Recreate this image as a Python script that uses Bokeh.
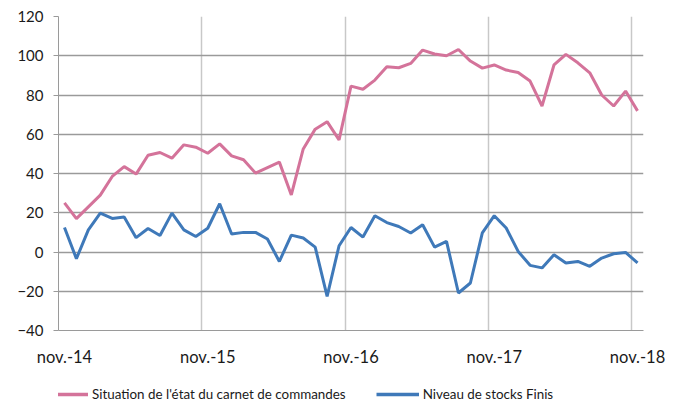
from bokeh.plotting import figure
from bokeh.layouts import column
from bokeh.models import FixedTicker, Legend, LegendItem, Range1d, ColumnDataSource
from bokeh.embed import file_html
from bokeh.resources import INLINE

months = list(range(49))
carnet = [25, 17, 23, 29, 38.5, 43.5, 39.7, 49.3, 50.7, 47.8, 54.6, 53.4, 50.3,
          55.1, 49, 47, 40.2, 43, 45.8, 29.1, 52.5, 62.6, 66.4, 57.1,
          84.5, 82.9, 87.6, 94.4, 93.9, 96.1, 102.9, 100.9, 100, 103.2, 97.3, 93.7,
          95.3, 92.7, 91.5, 87.1, 74.4, 95.3, 100.7, 96.4, 91.3, 80, 74.4, 82, 71.9]
stocks = [12.5, -3.4, 11.3, 19.8, 17.1, 17.8, 7.3, 12, 8.4, 19.8, 11.3, 7.9, 12.1,
          24.6, 9.2, 10, 10, 6.6, -4.8, 8.6, 7.1, 2.5, -22.6, 3.2,
          12.5, 7.6, 18.5, 15, 13, 9.7, 13.9, 2.5, 5.4, -20.9, -15.8, 9.7,
          18.5, 12.2, 0.3, -6.8, -8.1, -1.4, -5.6, -4.8, -7.3, -3.1, -0.9, -0.2, -5.6]
tick_pos = [0, 12, 24, 36, 48]
tick_labels = ["nov.-14", "nov.-15", "nov.-16", "nov.-17", "nov.-18"]
y_ticks = [-40, -20, 0, 20, 40, 60, 80, 100, 120]
names = ["Situation de l'état du carnet de commandes", "Niveau de stocks Finis"]

FONT = "Lato"
PINK = "#D4739A"
BLUE = "#3F79B9"
TXT = "#1a1a1a"

p = figure(width=668, height=370, output_backend="svg", toolbar_location=None,
           x_range=Range1d(-0.5, 48.5), y_range=Range1d(-40, 120),
           min_border_left=58, min_border_right=25, min_border_top=16, min_border_bottom=40)
p.outline_line_color = None

src = ColumnDataSource(dict(x=months, c=carnet, s=stocks))
p.line("x", "c", source=src, line_color=PINK, line_width=3)
p.line("x", "s", source=src, line_color=BLUE, line_width=3)

p.xaxis.ticker = FixedTicker(ticks=tick_pos)
p.xaxis.major_label_overrides = {t: l for t, l in zip(tick_pos, tick_labels)}
p.xaxis.major_tick_line_color = None
p.xaxis.minor_tick_line_color = None
p.xaxis.axis_line_color = "#9a9a9a"
p.xaxis.major_label_standoff = 10
p.xaxis.major_label_text_font = FONT
p.xaxis.major_label_text_font_size = "16.5px"
p.xaxis.major_label_text_color = TXT

p.yaxis.ticker = FixedTicker(ticks=y_ticks)
p.yaxis.axis_line_color = "#9a9a9a"
p.yaxis.major_tick_line_color = "#9a9a9a"
p.yaxis.major_tick_out = 5
p.yaxis.major_tick_in = 0
p.yaxis.minor_tick_line_color = None
p.yaxis.major_label_standoff = 10
p.yaxis.major_label_text_font = FONT
p.yaxis.major_label_text_font_size = "15px"
p.yaxis.major_label_text_color = TXT

p.ygrid.ticker = FixedTicker(ticks=y_ticks)
p.ygrid.grid_line_color = "#9a9a9a"
p.ygrid.grid_line_width = 1.5
p.xgrid.ticker = FixedTicker(ticks=[11.5, 23.5, 35.5, 47.5])
p.xgrid.grid_line_color = "#c8c8c8"
p.xgrid.grid_line_width = 1.5

# legend strip below the chart (its own lines sit outside its visible range)
lg = figure(width=668, height=32, output_backend="svg", toolbar_location=None,
            x_range=Range1d(-0.5, 48.5), y_range=Range1d(1000, 1001), min_border=0)
lg.outline_line_color = None
lg.xaxis.visible = False
lg.yaxis.visible = False
lg.xgrid.visible = False
lg.ygrid.visible = False
k1 = lg.line(months, carnet, line_color=PINK, line_width=3.5)
k2 = lg.line(months, stocks, line_color=BLUE, line_width=3.5)
legend = Legend(items=[LegendItem(label=names[0], renderers=[k1]),
                       LegendItem(label=names[1], renderers=[k2])],
                orientation="horizontal", location=(-13, 0),
                glyph_width=43, glyph_height=12, label_height=12, spacing=30, padding=0, margin=0,
                label_text_font=FONT, label_text_font_size="13.4px", label_text_color=TXT,
                label_standoff=4, border_line_color=None, background_fill_alpha=0)
lg.add_layout(legend, "center")

layout = column(p, lg, spacing=0)
open("out.html", "w").write(file_html(layout, INLINE))
